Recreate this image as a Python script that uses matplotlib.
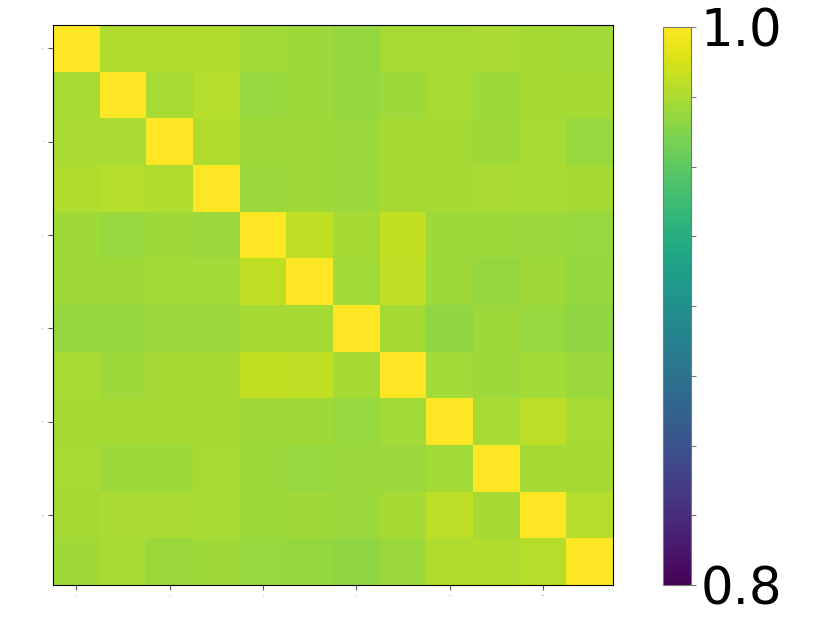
import numpy as np
import matplotlib
matplotlib.use("Agg")
import matplotlib.pyplot as plt

# similarity matrix (viridis, 0.8 .. 1.0)
row0 = [1.000, 0.976, 0.976, 0.976, 0.972, 0.971, 0.968, 0.974, 0.974, 0.975, 0.973, 0.972]
row1 = [0.974, 1.000, 0.974, 0.978, 0.969, 0.971, 0.968, 0.971, 0.974, 0.971, 0.973, 0.973]
row2 = [0.975, 0.975, 1.000, 0.976, 0.9715, 0.9715, 0.970, 0.973, 0.973, 0.9715, 0.974, 0.969]
row3 = [0.976, 0.978, 0.976, 1.000, 0.970, 0.9715, 0.970, 0.973, 0.973, 0.975, 0.974, 0.973]
row4 = [0.9715, 0.969, 0.9715, 0.970, 1.000, 0.981, 0.973, 0.982, 0.971, 0.971, 0.970, 0.969]
row5 = [0.9715, 0.9715, 0.972, 0.972, 0.981, 1.000, 0.972, 0.981, 0.971, 0.968, 0.9715, 0.968]
row6 = [0.968, 0.968, 0.970, 0.970, 0.973, 0.973, 1.000, 0.973, 0.967, 0.971, 0.969, 0.967]
row7 = [0.974, 0.971, 0.973, 0.973, 0.982, 0.981, 0.973, 1.000, 0.972, 0.971, 0.972, 0.970]
row8 = [0.973, 0.973, 0.973, 0.973, 0.9715, 0.9715, 0.969, 0.972, 1.000, 0.974, 0.980, 0.974]
row9 = [0.974, 0.971, 0.971, 0.974, 0.971, 0.969, 0.970, 0.970, 0.972, 1.000, 0.973, 0.973]
row10 = [0.973, 0.975, 0.975, 0.974, 0.971, 0.9715, 0.970, 0.973, 0.980, 0.973, 1.000, 0.978]
row11 = [0.9715, 0.974, 0.970, 0.9715, 0.969, 0.968, 0.967, 0.970, 0.976, 0.976, 0.978, 1.000]

sim = np.array([row0, row1, row2, row3, row4, row5,
                row6, row7, row8, row9, row10, row11])

tick_pos = [0, 2, 4, 6, 8, 10]
cbar_ticks = [0.8, 0.825, 0.85, 0.875, 0.9, 0.925, 0.95, 0.975, 1.0]
cbar_labels = ["0.8", "", "", "", "", "", "", "", "1.0"]

fig = plt.figure(figsize=(8.3, 6.23), dpi=100)
ax = fig.add_axes([53/830, 38/623, 560/830, 560/623])
im = ax.imshow(sim, cmap="viridis", vmin=0.8, vmax=1.0, interpolation="nearest")

ax.set_xticks(tick_pos)
ax.set_yticks(tick_pos)
ax.set_xticklabels([str(t) for t in tick_pos])
ax.set_yticklabels([str(t) for t in tick_pos])
ax.tick_params(labelsize=1, length=3.5, color="#555555")

cax = fig.add_axes([663/830, 38/623, 28/830, 558/623])
cb = fig.colorbar(im, cax=cax)
cb.set_ticks(cbar_ticks)
cb.set_ticklabels(cbar_labels)
cb.ax.tick_params(labelsize=37, length=3.5, color="#777777")
cb.outline.set_edgecolor("#777777")

fig.savefig("out.png", dpi=100)
